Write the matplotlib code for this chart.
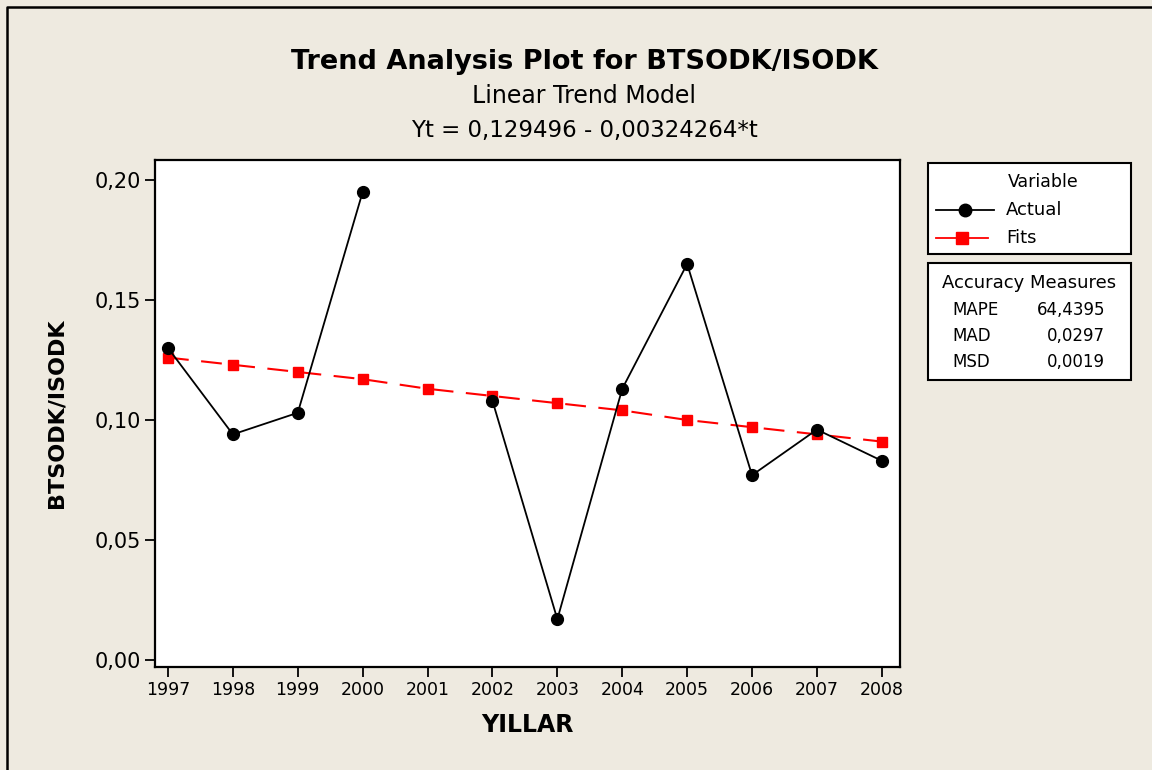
import numpy as np
import matplotlib
matplotlib.use("Agg")
import matplotlib.pyplot as plt
from matplotlib.lines import Line2D
from matplotlib.patches import Rectangle

years = [1997, 1998, 1999, 2000, 2001, 2002, 2003, 2004, 2005, 2006, 2007, 2008]
actual = [0.130, 0.094, 0.103, 0.195, np.nan, 0.108, 0.017, 0.113, 0.165, 0.077, 0.096, 0.083]
fits = [0.126, 0.123, 0.120, 0.117, 0.113, 0.110, 0.107, 0.104, 0.100, 0.097, 0.094, 0.091]
yticks = [0.00, 0.05, 0.10, 0.15, 0.20]
ytick_labels = ["0,00", "0,05", "0,10", "0,15", "0,20"]
measure_names = ["MAPE", "MAD", "MSD"]
measure_values = ["64,4395", "0,0297", "0,0019"]

plt.rcParams['font.family'] = ['DejaVu Sans']
W, H = 1152, 770
bg = '#EEEAE0'
fig = plt.figure(figsize=(W/100, H/100), dpi=100, facecolor=bg)

def fx(px): return px / W
def fy(py): return 1 - py / H

# outer border (left and top only)
fig.add_artist(Line2D([fx(7), fx(7), fx(1152)], [fy(770), fy(7), fy(7)],
                      transform=fig.transFigure, color='black', lw=1.8))

ax = fig.add_axes([fx(155), fy(667), fx(900) - fx(155), fy(160) - fy(667)])
ax.set_facecolor('white')
ax.plot(years, fits, color='red', ls=(0, (10, 6)), lw=1.5, marker='s', ms=7, zorder=2)
ax.plot(years, actual, color='black', lw=1.3, marker='o', ms=8.5, zorder=3)
ax.set_xlim(1996.8, 2008.28)
ax.set_ylim(-0.0029, 0.2083)
ax.set_xticks(years)
ax.set_xticklabels([str(y) for y in years], fontsize=12.5)
ax.set_yticks(yticks)
ax.set_yticklabels(ytick_labels, fontsize=15)
ax.tick_params(direction='out', length=7, width=1.3, pad=3)
for s in ax.spines.values():
    s.set_linewidth(1.6)
ax.set_xlabel("YILLAR", fontsize=17, fontweight='bold', labelpad=10)
ax.set_ylabel("BTSODK/ISODK", fontsize=16, fontweight='bold', labelpad=20)

fig.text(fx(584), fy(62), "Trend Analysis Plot for BTSODK/ISODK", fontsize=19.5,
         fontweight='bold', ha='center', va='center')
fig.text(fx(584), fy(96), "Linear Trend Model", fontsize=17, ha='center', va='center')
fig.text(fx(584), fy(130), "Yt = 0,129496 - 0,00324264*t", fontsize=16.5, ha='center', va='center')

# legend box 1
fig.add_artist(Rectangle((fx(928), fy(254)), fx(1131) - fx(928), fy(163) - fy(254),
                         transform=fig.transFigure, fc='white', ec='black', lw=1.5))
fig.text(fx(1043), fy(182), "Variable", fontsize=12.5, ha='center', va='center')
fig.add_artist(Line2D([fx(936), fx(994)], [fy(210), fy(210)], transform=fig.transFigure,
                      color='black', lw=1.3, zorder=5))
fig.add_artist(Line2D([fx(965)], [fy(210)], transform=fig.transFigure, color='black',
                      marker='o', ms=9, ls='none', zorder=5))
fig.add_artist(Line2D([fx(936), fx(988)], [fy(238), fy(238)], transform=fig.transFigure,
                      color='red', lw=1.3, zorder=5))
fig.add_artist(Line2D([fx(962)], [fy(238)], transform=fig.transFigure, color='red',
                      marker='s', ms=8, ls='none', zorder=5))
fig.text(fx(1006), fy(210), "Actual", fontsize=13, ha='left', va='center')
fig.text(fx(1006), fy(238), "Fits", fontsize=13, ha='left', va='center')

# legend box 2
fig.add_artist(Rectangle((fx(928), fy(380)), fx(1131) - fx(928), fy(263) - fy(380),
                         transform=fig.transFigure, fc='white', ec='black', lw=1.5))
fig.text(fx(1029), fy(283), "Accuracy Measures", fontsize=13, ha='center', va='center')
for i, (n, v) in enumerate(zip(measure_names, measure_values)):
    yy = 310 + i * 26
    fig.text(fx(952), fy(yy), n, fontsize=12, ha='left', va='center')
    fig.text(fx(1105), fy(yy), v, fontsize=12, ha='right', va='center')

fig.savefig("out.png", dpi=100, facecolor=bg)
